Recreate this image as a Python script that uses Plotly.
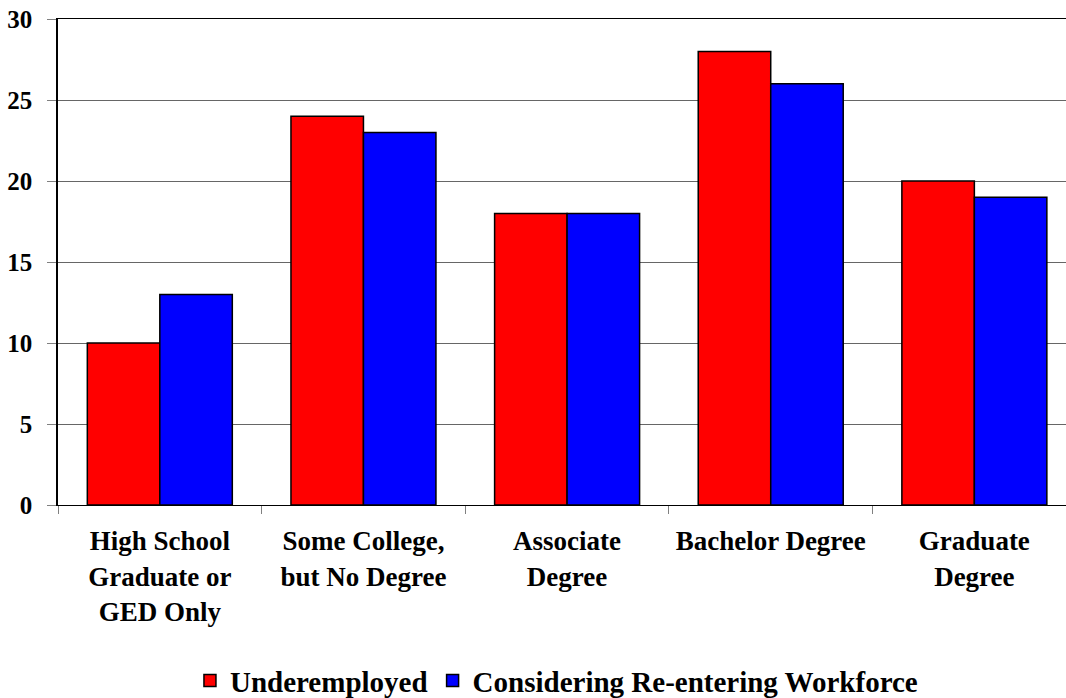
import plotly.graph_objects as go

categories = ["High School<br>Graduate or<br>GED Only", "Some College,<br>but No Degree",
              "Associate<br>Degree", "Bachelor Degree", "Graduate<br>Degree"]
underemployed = [10, 24, 18, 28, 20]
reentering = [13, 23, 18, 26, 19]
y_ticks = [0, 5, 10, 15, 20, 25, 30]

FONT = "Liberation Serif"

fig = go.Figure()
fig.add_trace(go.Bar(name="Underemployed", x=categories, y=underemployed,
                     marker=dict(color="#FF0000", line=dict(color="black", width=1.5))))
fig.add_trace(go.Bar(name="Considering Re-entering Workforce", x=categories, y=reentering,
                     marker=dict(color="#0000FF", line=dict(color="black", width=1.5))))

fig.update_layout(
    width=1066, height=698,
    margin=dict(l=58, r=0, t=19, b=193, autoexpand=False),
    paper_bgcolor="white", plot_bgcolor="white",
    barmode="group", bargap=0.288, bargroupgap=0,
    font=dict(family=FONT, color="black", size=25, weight="bold"),
    legend=dict(orientation="h", xref="container", yref="container", x=0.522, y=0.025,
                xanchor="center", yanchor="middle",
                font=dict(family=FONT, size=29, color="black", weight="bold"),
                itemwidth=30, tracegroupgap=0),
    showlegend=True,
)
fig.update_xaxes(
    range=[-0.5, 4.45], tickson="boundaries", ticks="outside", ticklen=8,
    tickcolor="#808080", showline=True, linecolor="black", linewidth=1, mirror=True,
    showgrid=False, tickfont=dict(family=FONT, size=27, weight="bold"),
    ticklabelstandoff=12, automargin=False,
)
fig.update_yaxes(
    range=[0, 30], tickvals=y_ticks, ticks="outside", ticklen=9, tickcolor="#808080",
    showline=True, linecolor="black", linewidth=1.5, showgrid=True,
    gridcolor="#666666", gridwidth=1, zeroline=False,
    tickfont=dict(family=FONT, size=25, weight="bold"), ticklabelstandoff=10,
    automargin=False,
)

fig.write_html("out.html", config={"displayModeBar": False},
               post_script="document.body.style.margin='0';")
